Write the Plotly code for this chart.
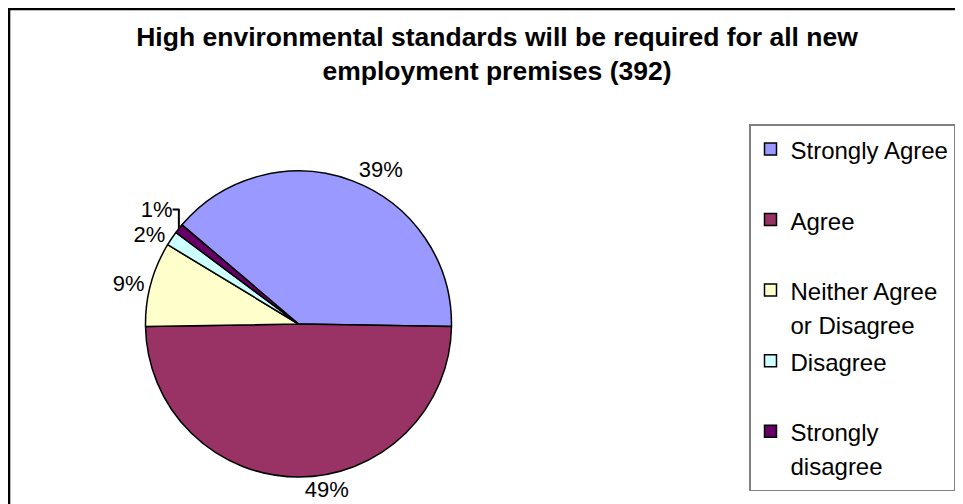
import plotly.graph_objects as go

# ---- data ----
categories = ["Strongly Agree", "Agree", "Neither Agree<br>or Disagree", "Disagree", "Strongly<br>disagree"]
counts = [153, 194, 35, 6, 4]
colors = ["#9999FF", "#993366", "#FFFFCC", "#CCFFFF", "#660066"]
title_text = "High environmental standards will be required for all new<br>employment premises (392)"

FONT = "Arial, 'Liberation Sans', sans-serif"
W, H = 963, 504

# legend labels: each entry rendered as two lines at 24px inside a 26px legend font
def legend_label(c):
    lines = c.split("<br>")
    if len(lines) == 1:
        lines.append(" ")
    return "<br>".join(f'<span style="font-size:24px">{ln}</span>' for ln in lines)

labels = [legend_label(c) for c in categories]

fig = go.Figure(
    go.Pie(
        labels=labels,
        values=counts,
        sort=False,
        direction="clockwise",
        rotation=-49.6,
        marker=dict(colors=colors, line=dict(color="black", width=1.5)),
        texttemplate="%{percent:.0%}",
        textposition="outside",
        textfont=dict(family=FONT, size=22, color="black"),
        hoverinfo="skip",
        domain=dict(x=[137.5 / W, 443.5 / W], y=[35 / H, 341 / H]),
    )
)

fig.update_layout(
    width=W,
    height=H,
    margin=dict(l=0, r=0, t=0, b=0, autoexpand=False),
    paper_bgcolor="white",
    plot_bgcolor="white",
    font=dict(family=FONT, color="black"),
    title=dict(
        text=title_text,
        font=dict(family=FONT, size=26.5, color="black", weight="bold"),
        x=489 / W,
        xref="paper",
        xanchor="center",
        y=1 - 38 / H,
        yref="paper",
        yanchor="top",
    ),
    legend=dict(
        x=741 / W,
        y=1 - 116 / H,
        xref="paper",
        yref="paper",
        xanchor="left",
        yanchor="top",
        font=dict(family=FONT, size=26, color="black"),
        bordercolor="#808080",
        borderwidth=1.5,
        bgcolor="white",
        valign="top",
        traceorder="normal",
    ),
    shapes=[
        dict(
            type="rect",
            xref="paper",
            yref="paper",
            x0=0.8 / W,
            x1=1.05,
            y0=-0.05,
            y1=1 - 0.8 / H,
            line=dict(color="black", width=3),
            fillcolor="rgba(0,0,0,0)",
            layer="below",
        )
    ],
)

fig.write_html("out.html")
